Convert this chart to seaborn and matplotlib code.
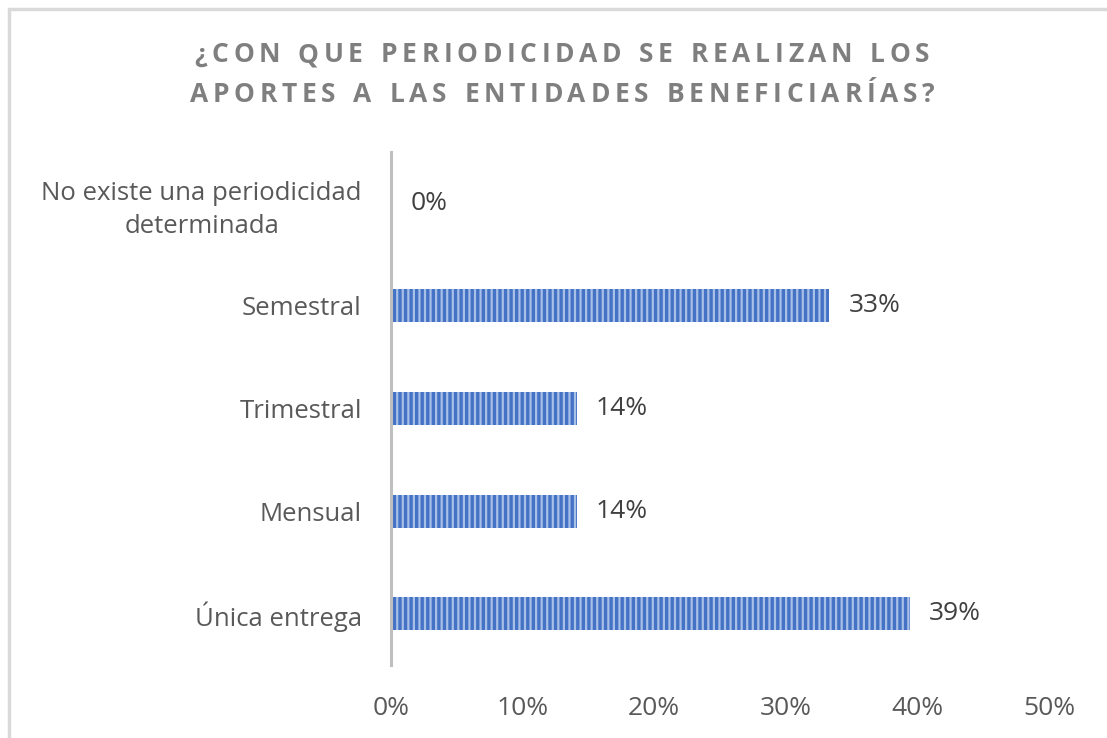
import matplotlib
matplotlib.use("Agg")
import matplotlib.pyplot as plt
from matplotlib.patches import Rectangle
import seaborn as sns
import pandas as pd

# data
categorias = ["No existe una periodicidad\ndeterminada", "Semestral", "Trimestral", "Mensual", "Única entrega"]
porcentajes = [0.0, 0.333, 0.141, 0.141, 0.394]
ticks_x = [0.0, 0.1, 0.2, 0.3, 0.4, 0.5]
titulo = ["¿CON QUE PERIODICIDAD SE REALIZAN LOS", "APORTES A LAS ENTIDADES BENEFICIARÍAS?"]

df = pd.DataFrame({"categoria": categorias, "valor": porcentajes})

sns.set_style("white")
plt.rcParams["font.family"] = ["Open Sans", "DejaVu Sans"]
plt.rcParams["hatch.linewidth"] = 1.6

fig = plt.figure(figsize=(11.07, 7.38), dpi=100)
ax = fig.add_axes([391 / 1107, 1 - 665 / 738, (1049 - 391) / 1107, (665 - 152) / 738])

sns.barplot(data=df, y="categoria", x="valor", orient="h", color="#4472C4",
            width=0.32, ax=ax, saturation=1)
for p in ax.patches:
    p.set_hatch("|||")
    p.set_edgecolor("#a8bfe8")
    p.set_linewidth(0)

ax.bar_label(ax.containers[0], labels=[f"{v:.0%}" for v in porcentajes],
             padding=14, fontsize=19, color="#404040")

ax.set_xlim(0, 0.5)
ax.set_xticks(ticks_x)
ax.set_xticklabels([f"{t:.0%}" for t in ticks_x])
ax.set_xlabel("")
ax.set_ylabel("")
ax.tick_params(axis="x", length=0, pad=22, labelsize=19, labelcolor="#595959")
ax.tick_params(axis="y", length=0, pad=21, labelsize=18.5, labelcolor="#595959")
for lbl in ax.get_yticklabels():
    lbl.set_multialignment("center")
    lbl.set_linespacing(1.4)

for s in ["top", "right", "bottom"]:
    ax.spines[s].set_visible(False)
ax.spines["left"].set_color("#bfbfbf")
ax.spines["left"].set_linewidth(2.2)

# title with letter spacing, drawn char by char
renderer = fig.canvas.get_renderer()
tsize = 19
for line, yc, span in zip(titulo, [55, 95], [735, 745]):
    widths = []
    for ch in line:
        t = fig.text(0, 0, ch if ch != " " else "n", fontsize=tsize, fontweight="bold")
        widths.append(t.get_window_extent(renderer).width * (0.5 if ch == " " else 1))
        t.remove()
    spacing = (span - sum(widths)) / (len(line) - 1)
    x = 562 - span / 2
    for ch, w in zip(line, widths):
        if ch != " ":
            fig.text(x / 1107, 1 - yc / 738, ch, fontsize=tsize, fontweight="bold",
                     color="#7f7f7f", ha="left", va="center")
        x += w + spacing

# chart border
fig.add_artist(Rectangle((9 / 1107, -0.1), 1.2, 1.1 - 9 / 738, transform=fig.transFigure,
                         fill=False, edgecolor="#d9d9d9", linewidth=2.5, clip_on=False))

fig.savefig("out.png", dpi=100)
